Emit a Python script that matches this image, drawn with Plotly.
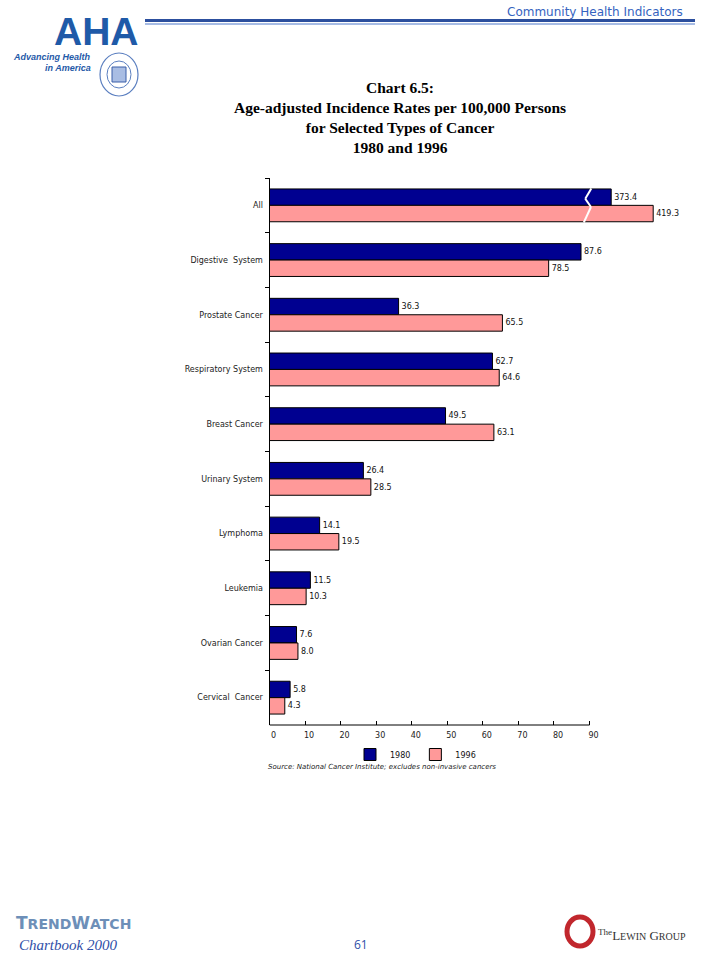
import plotly.graph_objects as go

# ---------------- data ----------------
categories = ["All", "Digestive\u00a0 System", "Prostate Cancer", "Respiratory System",
              "Breast Cancer", "Urinary System", "Lymphoma", "Leukemia",
              "Ovarian Cancer", "Cervical\u00a0 Cancer"]
rates_1980 = [373.4, 87.6, 36.3, 62.7, 49.5, 26.4, 14.1, 11.5, 7.6, 5.8]
rates_1996 = [419.3, 78.5, 65.5, 64.6, 63.1, 28.5, 19.5, 10.3, 8.0, 4.3]
series_names = ["1980", "1996"]
x_ticks = [0, 10, 20, 30, 40, 50, 60, 70, 80, 90]

# the "All" row is drawn on a broken (compressed) scale
BREAK_CATEGORY = "All"
BREAK_FACTOR = 3.886

W, H = 720, 960


def px(x):
    return x / W


def py(y):
    return 1 - y / H


def shown(values):
    return [v / BREAK_FACTOR if c == BREAK_CATEGORY else v
            for c, v in zip(categories, values)]


NAVY = "#000090"
PINK = "#ff9999"
BLUE_TXT = "#3563c0"
SANS = "DejaVu Sans, Verdana, sans-serif"
SERIF = "Liberation Serif, Times New Roman, serif"

fig = go.Figure()
for name, vals, col in [(series_names[0], rates_1980, NAVY), (series_names[1], rates_1996, PINK)]:
    fig.add_trace(go.Bar(
        y=categories, x=shown(vals), orientation="h", name=name,
        marker=dict(color=col, line=dict(color="black", width=1)),
        text=[f"{v:.1f}" for v in vals], textposition="outside",
        textfont=dict(family=SANS, size=8, color="#111"),
        cliponaxis=False, constraintext="none", hoverinfo="skip",
    ))

x0_px, x_end_px, unit_px = 269.5, 680, 3.556
xmax = (x_end_px - x0_px) / unit_px
y_top_px, y_bot_px = 178, 725

fig.update_layout(
    width=W, height=H, autosize=False,
    margin=dict(l=0, r=0, t=0, b=0),
    paper_bgcolor="white", plot_bgcolor="white",
    barmode="group", bargap=0.4, bargroupgap=0,
    showlegend=True,
    legend=dict(orientation="h", x=px(350), y=py(754.5), xanchor="left", yanchor="middle",
                font=dict(family=SANS, size=8, color="#111"), traceorder="normal",
                bgcolor="rgba(0,0,0,0)"),
    xaxis=dict(domain=[px(x0_px), px(x_end_px)], range=[0, xmax],
               tickvals=x_ticks, ticks="inside", ticklen=4, tickcolor="black",
               showline=False, showgrid=False, zeroline=False,
               tickfont=dict(family=SANS, size=8, color="#222"),
               ticklabelshift=4, ticklabelstandoff=4),
    yaxis=dict(type="category", categoryorder="array", categoryarray=categories,
               range=[len(categories) - 0.5, -0.5],
               domain=[py(y_bot_px), py(y_top_px)],
               showline=True, linecolor="black", linewidth=1,
               ticks="outside", ticklen=4, tickcolor="black", tickson="boundaries",
               showgrid=False, zeroline=False, ticklabelstandoff=4,
               tickfont=dict(family=SANS, size=8, color="#222")),
)

shapes = []
# x axis line only up to the last tick
shapes.append(dict(type="line", xref="x", yref="paper", x0=0, x1=x_ticks[-1],
                   y0=py(y_bot_px), y1=py(y_bot_px), line=dict(color="black", width=1)))
# break marks on the "All" bars
zig = [(90.5, -0.31), (88.8, -0.12), (90.4, 0.03), (88.4, 0.31)]
for (xa, ya), (xb, yb) in zip(zig[:-1], zig[1:]):
    shapes.append(dict(type="line", xref="x", yref="y", x0=xa, y0=ya, x1=xb, y1=yb,
                       line=dict(color="white", width=2), layer="above"))
# header double rule
shapes.append(dict(type="line", xref="paper", yref="paper", x0=px(145), x1=px(695),
                   y0=py(20.5), y1=py(20.5), line=dict(color="#2c4f9e", width=3)))
shapes.append(dict(type="line", xref="paper", yref="paper", x0=px(145), x1=px(695),
                   y0=py(24), y1=py(24), line=dict(color="#8aa6dc", width=1.5)))
# AHA seal
shapes.append(dict(type="circle", xref="paper", yref="paper", x0=px(100), x1=px(138),
                   y0=py(96), y1=py(53), line=dict(color="#5b7fc0", width=1.2)))
shapes.append(dict(type="circle", xref="paper", yref="paper", x0=px(107), x1=px(131),
                   y0=py(88), y1=py(61), line=dict(color="#5b7fc0", width=1)))
shapes.append(dict(type="rect", xref="paper", yref="paper", x0=px(112), x1=px(126),
                   y0=py(82), y1=py(67), line=dict(color="#3b5fa8", width=1),
                   fillcolor="#a9bde3"))
# Lewin Group ring
shapes.append(dict(type="circle", xref="paper", yref="paper", x0=px(567), x1=px(593),
                   y0=py(946), y1=py(917), line=dict(color="#c1272d", width=5)))
fig.update_layout(shapes=shapes)

ann = []
ann.append(dict(text="Community Health Indicators", x=px(685), y=py(12), xanchor="right",
                yanchor="middle", showarrow=False, xref="paper", yref="paper",
                font=dict(family=SANS, size=12, color=BLUE_TXT)))
ann.append(dict(text="<b>AHA</b>", x=px(96), y=py(32), xanchor="center", yanchor="middle",
                showarrow=False, xref="paper", yref="paper",
                font=dict(family="Liberation Sans Narrow, Arial Narrow, Liberation Sans",
                          size=39, color="#1f5aa8")))
ann.append(dict(text="<b><i>Advancing Health</i></b>", x=px(93), y=py(57), xanchor="right",
                yanchor="middle", showarrow=False, xref="paper", yref="paper",
                font=dict(family="Liberation Sans, Arial", size=9, color="#1f5aa8")))
ann.append(dict(text="<b><i>in America</i></b>", x=px(93), y=py(68), xanchor="right",
                yanchor="middle", showarrow=False, xref="paper", yref="paper",
                font=dict(family="Liberation Sans, Arial", size=9, color="#1f5aa8")))
ann.append(dict(text="<b>Chart 6.5:</b><br><b>Age-adjusted Incidence Rates per 100,000 Persons</b>"
                     "<br><b>for Selected Types of Cancer</b><br><b>1980 and 1996</b>",
                x=px(400), y=py(77), xanchor="center", yanchor="top", align="center",
                showarrow=False, xref="paper", yref="paper",
                font=dict(family=SERIF, size=15.5, color="black")))
ann.append(dict(text="<i>Source: National Cancer Institute; excludes non-invasive cancers</i>",
                x=px(266), y=py(767), xanchor="left", yanchor="middle", showarrow=False,
                xref="paper", yref="paper", font=dict(family=SANS, size=7, color="#222")))
ann.append(dict(text="<b>T<span style='font-size:14px'>REND</span>W<span style='font-size:14px'>ATCH</span></b>",
                x=px(14), y=py(923), xanchor="left", yanchor="middle", showarrow=False,
                xref="paper", yref="paper", font=dict(family=SANS, size=17, color="#6d8fb8")))
ann.append(dict(text="<i>Chartbook 2000</i>", x=px(17), y=py(945), xanchor="left",
                yanchor="middle", showarrow=False, xref="paper", yref="paper",
                font=dict(family=SERIF, size=15, color="#2f4fa8")))
ann.append(dict(text="61", x=px(361), y=py(944), xanchor="center", yanchor="middle",
                showarrow=False, xref="paper", yref="paper",
                font=dict(family="Open Sans, DejaVu Sans", size=12, color="#2f4fa8")))
ann.append(dict(text="<sup>The</sup>L<span style='font-size:10px'>EWIN</span> G<span style='font-size:10px'>ROUP</span>",
                x=px(596), y=py(935), xanchor="left", yanchor="middle", showarrow=False,
                xref="paper", yref="paper", font=dict(family=SERIF, size=13, color="#333")))
fig.update_layout(annotations=ann)

fig.write_html("out.html", config={"displayModeBar": False},
               post_script="document.body.style.margin='0';")
